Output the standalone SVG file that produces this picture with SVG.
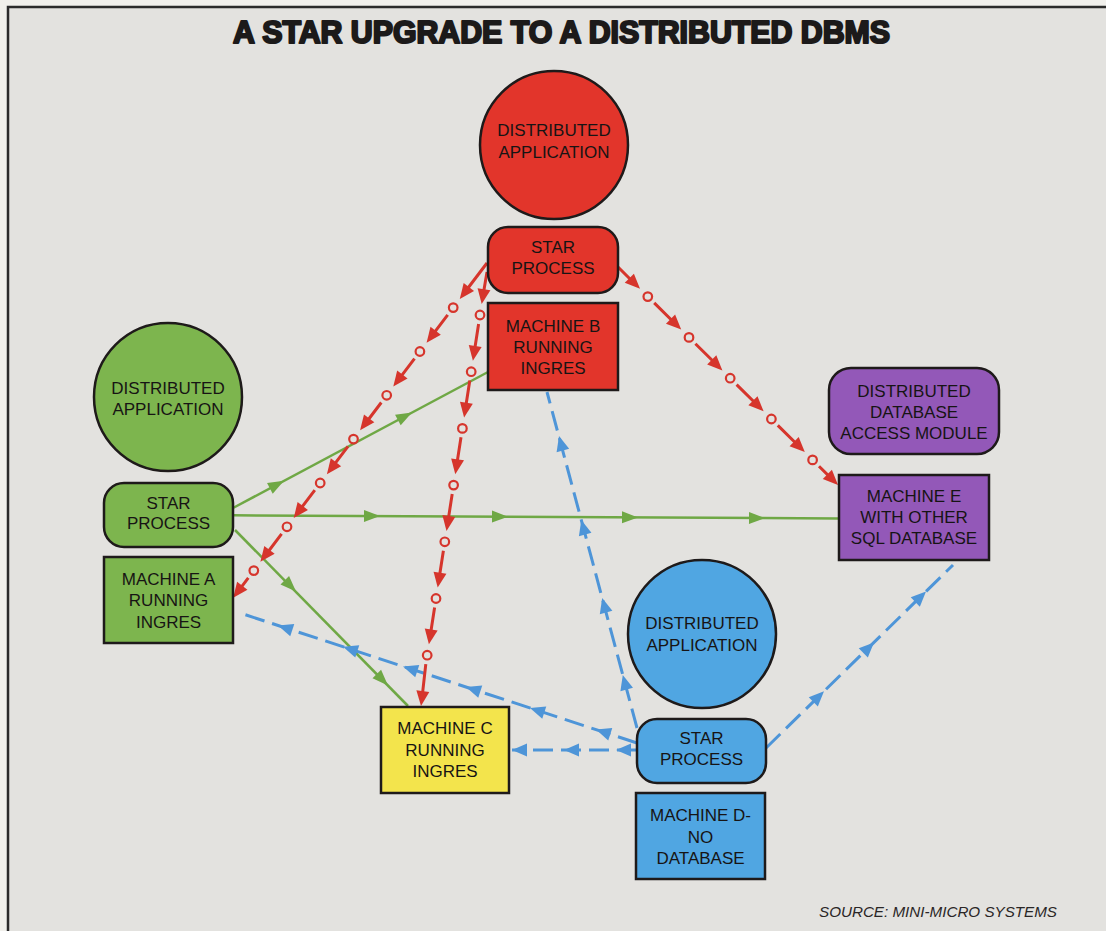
<svg xmlns="http://www.w3.org/2000/svg" xmlns:xlink="http://www.w3.org/1999/xlink" width="1106" height="931" viewBox="0 0 1106 931">
<style>
.lbl{font-family:"Liberation Sans",Arial,Helvetica,sans-serif;font-size:17px;fill:#171414;text-anchor:middle}
.node{stroke:#1e1a1a;stroke-width:2.5}
.red{fill:#e2352b}.green{fill:#7db54e}.blue{fill:#50a6e2}.purple{fill:#9358b8}.yellow{fill:#f3e44c}
.rl{stroke:#d6352c;stroke-width:3;fill:none}
.rc{fill:#e3e2df;stroke:#d6352c;stroke-width:2.2}
.ra{fill:#d6352c}
.gl{stroke:#6fa845;stroke-width:2.5;fill:none}
.ga{fill:#6fa845}
.bl{stroke:#4e95d8;stroke-width:3;fill:none;stroke-dasharray:20 8}
.ba{fill:#4e95d8}
</style>
<defs>
<path id="arr" d="M0,0 L-15,-6.5 L-15,6.5 Z"/>
<path id="garr" d="M0,0 L-16,-6 L-16,6 Z"/>
</defs>
<rect x="0" y="0" width="1106" height="931" fill="#f1f0ec"/>
<rect x="8" y="7" width="1120" height="950" fill="#e3e2df" stroke="#2b2b2b" stroke-width="2.5"/>
<text x="561.5" y="43" font-family="'Liberation Sans',Arial,sans-serif" font-weight="bold" font-size="31" fill="#1c1a1a" stroke="#1c1a1a" stroke-width="2.2" stroke-linejoin="round" text-anchor="middle" textLength="657" lengthAdjust="spacingAndGlyphs">A STAR UPGRADE TO A DISTRIBUTED DBMS</text>

<g id="connectors">
  <!-- green -->
  <line class="gl" x1="233" y1="508" x2="488" y2="372"/>
  <use xlink:href="#garr" class="ga" transform="translate(284,480.8) rotate(-28.1)"/>
  <use xlink:href="#garr" class="ga" transform="translate(412,412.4) rotate(-28.1)"/>
  <line class="gl" x1="233" y1="515.3" x2="839" y2="518.5"/>
  <use xlink:href="#garr" class="ga" transform="translate(380,516.1) rotate(0.3)"/>
  <use xlink:href="#garr" class="ga" transform="translate(508,516.7) rotate(0.3)"/>
  <use xlink:href="#garr" class="ga" transform="translate(638,517.4) rotate(0.3)"/>
  <use xlink:href="#garr" class="ga" transform="translate(765,518.1) rotate(0.3)"/>
  <line class="gl" x1="235" y1="530" x2="408" y2="706"/>
  <use xlink:href="#garr" class="ga" transform="translate(296,591.6) rotate(45.5)"/>
  <use xlink:href="#garr" class="ga" transform="translate(388,685.4) rotate(45.5)"/>
  <!-- blue -->
  <line class="bl" x1="637" y1="750" x2="512" y2="750"/>
  <use xlink:href="#arr" class="ba" transform="translate(512,750) rotate(180)"/>
  <use xlink:href="#arr" class="ba" transform="translate(564,750) rotate(180)"/>
  <use xlink:href="#arr" class="ba" transform="translate(616,750) rotate(180)"/>
  <line class="bl" x1="637" y1="743" x2="240" y2="613"/>
  <use xlink:href="#arr" class="ba" transform="translate(596,729.6) rotate(198.1)"/>
  <use xlink:href="#arr" class="ba" transform="translate(530,708) rotate(198.1)"/>
  <use xlink:href="#arr" class="ba" transform="translate(466,687) rotate(198.1)"/>
  <use xlink:href="#arr" class="ba" transform="translate(403,666.4) rotate(198.1)"/>
  <use xlink:href="#arr" class="ba" transform="translate(343,646.7) rotate(198.1)"/>
  <use xlink:href="#arr" class="ba" transform="translate(278,625.4) rotate(198.1)"/>
  <line class="bl" x1="637" y1="728" x2="547" y2="392"/>
  <use xlink:href="#arr" class="ba" transform="translate(559,436) rotate(255)"/>
  <use xlink:href="#arr" class="ba" transform="translate(581.3,520) rotate(255)"/>
  <use xlink:href="#arr" class="ba" transform="translate(602.2,598) rotate(255)"/>
  <use xlink:href="#arr" class="ba" transform="translate(622.8,675) rotate(255)"/>
  <line class="bl" x1="766" y1="748" x2="953" y2="565"/>
  <use xlink:href="#arr" class="ba" transform="translate(824,691.3) rotate(-44.4)"/>
  <use xlink:href="#arr" class="ba" transform="translate(874,642.4) rotate(-44.4)"/>
  <use xlink:href="#arr" class="ba" transform="translate(926,591.5) rotate(-44.4)"/>
  <!-- red: star process B to machine A -->
  <path class="rl" d="M487,263 L464.6,292.5 M447.7,314.8 L431.4,336.3 M414.5,358.6 L398.2,380.1 M381.3,402.5 L365,424 M348,446.3 L331.7,467.8 M314.8,490.1 L298.5,511.6 M281.6,533.9 L265.3,555.5 M248.3,577.8 L238.1,591.3"/>
  <g class="ra">
    <use xlink:href="#arr" transform="translate(459.8,298.9) rotate(127.2)"/>
    <use xlink:href="#arr" transform="translate(426.6,342.7) rotate(127.2)"/>
    <use xlink:href="#arr" transform="translate(393.3,386.5) rotate(127.2)"/>
    <use xlink:href="#arr" transform="translate(360.1,430.3) rotate(127.2)"/>
    <use xlink:href="#arr" transform="translate(326.9,474.2) rotate(127.2)"/>
    <use xlink:href="#arr" transform="translate(293.7,518) rotate(127.2)"/>
    <use xlink:href="#arr" transform="translate(260.4,561.8) rotate(127.2)"/>
    <use xlink:href="#arr" transform="translate(233.2,597.7) rotate(127.2)"/>
  </g>
  <g class="rc">
    <circle cx="453.2" cy="307.6" r="4.3"/><circle cx="419.9" cy="351.5" r="4.3"/><circle cx="386.7" cy="395.3" r="4.3"/><circle cx="353.5" cy="439.1" r="4.3"/><circle cx="320.2" cy="483" r="4.3"/><circle cx="287" cy="526.8" r="4.3"/><circle cx="253.8" cy="570.6" r="4.3"/>
  </g>
  <!-- red: star process B to machine C -->
  <path class="rl" d="M487,272 L482.9,296.2 M478.6,323.9 L474.1,352.9 M469.8,380.6 L465.3,409.6 M461,437.3 L456.5,466.3 M452.2,494 L447.7,523 M443.4,550.7 L438.9,579.7 M434.6,607.4 L430.1,636.4 M425.8,664.1 L422,698.1"/>
  <g class="ra">
    <use xlink:href="#arr" transform="translate(481.7,304.1) rotate(98.8)"/>
    <use xlink:href="#arr" transform="translate(472.9,360.8) rotate(98.8)"/>
    <use xlink:href="#arr" transform="translate(464.1,417.5) rotate(98.8)"/>
    <use xlink:href="#arr" transform="translate(455.3,474.2) rotate(98.8)"/>
    <use xlink:href="#arr" transform="translate(446.5,530.9) rotate(98.8)"/>
    <use xlink:href="#arr" transform="translate(437.7,587.6) rotate(98.8)"/>
    <use xlink:href="#arr" transform="translate(428.9,644.3) rotate(98.8)"/>
    <use xlink:href="#arr" transform="translate(421,706) rotate(97)"/>
  </g>
  <g class="rc">
    <circle cx="480" cy="315" r="4.3"/><circle cx="471.2" cy="371.7" r="4.3"/><circle cx="462.4" cy="428.4" r="4.3"/><circle cx="453.6" cy="485.1" r="4.3"/><circle cx="444.8" cy="541.8" r="4.3"/><circle cx="436" cy="598.5" r="4.3"/><circle cx="427.2" cy="655.2" r="4.3"/>
  </g>
  <!-- red: star process B to machine E -->
  <path class="rl" d="M618,267 L634.3,283.2 M654.2,302.9 L675.5,324 M695.4,343.7 L716.7,364.8 M736.6,384.6 L758,405.7 M777.8,425.4 L799.2,446.5 M819,466.2 L832.5,479.6"/>
  <g class="ra">
    <use xlink:href="#arr" transform="translate(640,288.8) rotate(44.7)"/>
    <use xlink:href="#arr" transform="translate(681.2,329.6) rotate(44.7)"/>
    <use xlink:href="#arr" transform="translate(722.4,370.5) rotate(44.7)"/>
    <use xlink:href="#arr" transform="translate(763.6,411.3) rotate(44.7)"/>
    <use xlink:href="#arr" transform="translate(804.8,452.1) rotate(44.7)"/>
    <use xlink:href="#arr" transform="translate(838,485) rotate(44.7)"/>
  </g>
  <g class="rc">
    <circle cx="647.8" cy="296.6" r="4.3"/><circle cx="689" cy="337.4" r="4.3"/><circle cx="730.2" cy="378.2" r="4.3"/><circle cx="771.4" cy="419" r="4.3"/><circle cx="812.6" cy="459.9" r="4.3"/>
  </g>
</g>

<g id="app-b">
  <circle class="node red" cx="554" cy="145" r="74"/>
  <text class="lbl" x="554" y="136">DISTRIBUTED</text>
  <text class="lbl" x="554" y="158">APPLICATION</text>
</g>
<g id="star-b">
  <rect class="node red" x="488" y="227" width="130" height="66" rx="20"/>
  <text class="lbl" x="553" y="253">STAR</text>
  <text class="lbl" x="553" y="274">PROCESS</text>
</g>
<g id="machine-b">
  <rect class="node red" x="488" y="303" width="130" height="87"/>
  <text class="lbl" x="553" y="332">MACHINE B</text>
  <text class="lbl" x="553" y="353">RUNNING</text>
  <text class="lbl" x="553" y="374">INGRES</text>
</g>
<g id="app-a">
  <circle class="node green" cx="168" cy="397" r="74"/>
  <text class="lbl" x="168" y="394">DISTRIBUTED</text>
  <text class="lbl" x="168" y="415">APPLICATION</text>
</g>
<g id="star-a">
  <rect class="node green" x="104" y="483" width="129" height="64" rx="20"/>
  <text class="lbl" x="168.5" y="509">STAR</text>
  <text class="lbl" x="168.5" y="529">PROCESS</text>
</g>
<g id="machine-a">
  <rect class="node green" x="104" y="557" width="129" height="86"/>
  <text class="lbl" x="168.5" y="585">MACHINE A</text>
  <text class="lbl" x="168.5" y="606">RUNNING</text>
  <text class="lbl" x="168.5" y="628">INGRES</text>
</g>
<g id="machine-c">
  <rect class="node yellow" x="381" y="707" width="128" height="86"/>
  <text class="lbl" x="445" y="734">MACHINE C</text>
  <text class="lbl" x="445" y="756">RUNNING</text>
  <text class="lbl" x="445" y="777">INGRES</text>
</g>
<g id="app-d">
  <circle class="node blue" cx="702" cy="634" r="74"/>
  <text class="lbl" x="702" y="629">DISTRIBUTED</text>
  <text class="lbl" x="702" y="651">APPLICATION</text>
</g>
<g id="star-d">
  <rect class="node blue" x="637" y="719" width="129" height="64" rx="20"/>
  <text class="lbl" x="701.5" y="744">STAR</text>
  <text class="lbl" x="701.5" y="765">PROCESS</text>
</g>
<g id="machine-d">
  <rect class="node blue" x="636" y="793" width="129" height="86"/>
  <text class="lbl" x="700.5" y="821">MACHINE D-</text>
  <text class="lbl" x="700.5" y="843">NO</text>
  <text class="lbl" x="700.5" y="864">DATABASE</text>
</g>
<g id="ddam-e">
  <rect class="node purple" x="829" y="368" width="170" height="86" rx="22"/>
  <text class="lbl" x="914" y="397">DISTRIBUTED</text>
  <text class="lbl" x="914" y="418">DATABASE</text>
  <text class="lbl" x="914" y="439">ACCESS MODULE</text>
</g>
<g id="machine-e">
  <rect class="node purple" x="839" y="475" width="150" height="85"/>
  <text class="lbl" x="914" y="502">MACHINE E</text>
  <text class="lbl" x="914" y="523">WITH OTHER</text>
  <text class="lbl" x="914" y="544">SQL DATABASE</text>
</g>
<text x="819" y="917" font-family="'Liberation Sans',Arial,sans-serif" font-style="italic" font-size="14.5" fill="#2a2626" textLength="238" lengthAdjust="spacingAndGlyphs">SOURCE: MINI-MICRO SYSTEMS</text>
</svg>
